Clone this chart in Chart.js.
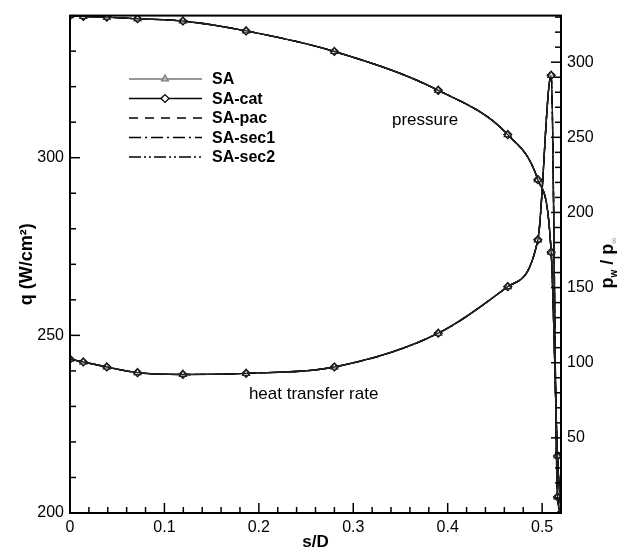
<!doctype html>
<html>

<head>
  <meta charset="utf-8">
  <title>Heat transfer rate and wall pressure vs s/D</title>
  <style>
    html, body { margin: 0; padding: 0; background: #fff; }
    .chartBox { width: 627px; height: 551px; }
  </style>
</head>

<body>
  <div class="chartBox">
    <canvas id="myChart" width="627" height="551"></canvas>
  </div>

  <script src="https://cdn.jsdelivr.net/npm/chart.js"></script>
  <script>
    const seriesNames = ['SA', 'SA-cat', 'SA-pac', 'SA-sec1', 'SA-sec2'];
    // s/D stations (where the symbols sit)
    const sD = [0, 0.0141, 0.039, 0.0715, 0.1196, 0.1865, 0.28, 0.39, 0.4636, 0.4955, 0.5096, 0.5163, 0.52];
    // heat transfer rate q (W/cm2), left axis; the five models lie on top of each other
    const heatQ = [243.3, 242.5, 241.1, 239.5, 239.0, 239.3, 241.1, 250.6, 263.7, 276.9, 323.2, 204.5, 200];
    // wall pressure p_w / p_inf, right axis
    const pressure = [330.9, 330.4, 330.0, 328.9, 327.4, 320.8, 307.1, 281.3, 251.8, 221.8, 173.6, 38, 0];

    const xTicks = [0, 0.1, 0.2, 0.3, 0.4, 0.5];
    const qTicks = [200, 250, 300];
    const pTicks = [50, 100, 150, 200, 250, 300];

    const font = 'Liberation Sans, Arial, sans-serif';

    // line look of each model (order: lower is drawn on top)
    const looks = [
      { borderColor: '#222', legendColor: '#777', legendFill: '#bbb', borderDash: [], order: 0, pointStyle: 'triangle', pointRadius: 4, pointBackgroundColor: 'rgba(0,0,0,0)', pointBorderColor: '#222' },
      { borderColor: '#000', borderDash: [], order: 1, pointStyle: 'rectRot', pointRadius: 4, pointBackgroundColor: '#fff', pointBorderColor: '#000' },
      { borderColor: '#000', borderDash: [9, 7], order: 2, pointRadius: 0 },
      { borderColor: '#000', borderDash: [12, 4, 2, 4], order: 2, pointRadius: 0 },
      { borderColor: '#000', borderDash: [12, 3, 2, 3, 2, 3], order: 2, pointRadius: 0 }
    ];

    const datasets = [];
    seriesNames.forEach((name, i) => {
      datasets.push(Object.assign({
        label: name,
        yAxisID: 'y',
        data: sD.map((s, k) => ({ x: s, y: heatQ[k] })),
        borderWidth: 1.4,
        pointBorderWidth: 1.2,
        cubicInterpolationMode: 'monotone'
      }, looks[i]));
    });
    seriesNames.forEach((name, i) => {
      datasets.push(Object.assign({
        label: name + ' p',
        yAxisID: 'y1',
        data: sD.map((s, k) => ({ x: s, y: pressure[k] })),
        borderWidth: 1.4,
        pointBorderWidth: 1.2,
        cubicInterpolationMode: 'monotone'
      }, looks[i]));
    });

    // frame and inward tick marks, like the original plot
    const frameTicks = {
      id: 'frameTicks',
      afterDatasetsDraw(chart) {
        const { ctx, chartArea: a, scales } = chart;
        ctx.save();
        ctx.strokeStyle = '#000';
        ctx.lineWidth = 1.5;
        const tick = (x1, y1, x2, y2) => {
          ctx.beginPath(); ctx.moveTo(x1, y1); ctx.lineTo(x2, y2); ctx.stroke();
        };
        for (let i = 1; i <= 26; i++) {
          const x = scales.x.getPixelForValue(i * 0.02);
          tick(x, a.bottom, x, a.bottom - (i % 5 === 0 ? 10 : 6));
        }
        for (let v = 210; v <= 340; v += 10) {
          const y = scales.y.getPixelForValue(v);
          tick(a.left, y, a.left + (v % 50 === 0 ? 10 : 6), y);
        }
        for (let v = 10; v <= 330; v += 10) {
          const y = scales.y1.getPixelForValue(v);
          tick(a.right, y, a.right - (v % 50 === 0 ? 10 : 6), y);
        }
        ctx.lineWidth = 2;
        ctx.strokeRect(a.left, a.top, a.right - a.left, a.bottom - a.top);
        ctx.restore();
      }
    };

    // legend box, curve labels and the right axis title
    const extras = {
      id: 'extras',
      afterDraw(chart) {
        const { ctx, scales } = chart;
        ctx.save();
        // legend
        ctx.font = 'bold 16px ' + font;
        ctx.textBaseline = 'middle';
        seriesNames.forEach((name, i) => {
          const look = looks[i];
          const y = 79 + i * 19.5;
          ctx.strokeStyle = look.legendColor || look.borderColor;
          ctx.lineWidth = 1.4;
          ctx.setLineDash(look.borderDash);
          ctx.beginPath(); ctx.moveTo(129, y); ctx.lineTo(202, y); ctx.stroke();
          ctx.setLineDash([]);
          if (look.pointRadius) {
            ctx.fillStyle = look.legendFill || look.pointBackgroundColor;
            ctx.strokeStyle = look.legendColor || look.pointBorderColor;
            ctx.lineWidth = 1.2;
            Chart.helpers.drawPoint(ctx, { pointStyle: look.pointStyle, radius: look.pointRadius, rotation: 0, borderWidth: 1.2 }, 165, y);
          }
          ctx.fillStyle = '#000';
          ctx.textAlign = 'left';
          ctx.fillText(name, 212, y + 1);
        });

        // curve labels
        ctx.font = '17px ' + font;
        ctx.textAlign = 'center';
        ctx.fillText('pressure', scales.x.getPixelForValue(0.376), scales.y1.getPixelForValue(261.5));
        ctx.fillText('heat transfer rate', scales.x.getPixelForValue(0.258), scales.y.getPixelForValue(233.5));

        // right axis title p_w / p_inf, reading bottom to top
        ctx.translate(608, 263);
        ctx.rotate(-Math.PI / 2);
        ctx.textAlign = 'left';
        ctx.textBaseline = 'alphabetic';
        const big = 'bold 18px ' + font, small = 'bold 10px ' + font;
        const parts = [['p', big, 0], ['w', small, 4], [' / ', big, 0], ['p', big, 0], ['\u221e', '9px ' + font, 4]];
        let w = 0;
        parts.forEach(p => { ctx.font = p[1]; w += ctx.measureText(p[0]).width; });
        let x = -w / 2;
        parts.forEach(p => {
          ctx.font = p[1];
          ctx.fillStyle = p[0] === '\u221e' ? '#888' : '#000';
          ctx.fillText(p[0], x, 5 + p[2]);
          x += ctx.measureText(p[0]).width;
        });
        ctx.restore();
      }
    };

    const setTicks = (values) => (scale) => {
      scale.ticks = values.map(v => ({ value: v }));
    };

    const config = {
      type: 'line',
      data: { datasets },
      options: {
        responsive: false,
        animation: false,
        devicePixelRatio: 1,
        layout: { padding: { top: 12, left: 0, right: 0, bottom: 0 } },
        plugins: { legend: { display: false }, tooltip: { enabled: false } },
        scales: {
          x: {
            type: 'linear',
            min: 0,
            max: 0.52,
            grid: { display: false, drawTicks: false },
            border: { display: false },
            afterBuildTicks: setTicks(xTicks),
            afterFit: (s) => { s.height = 38; },
            ticks: {
              padding: 5,
              color: '#000',
              font: { family: font, size: 16 },
              callback: (v) => (v === 0 ? '0' : v.toFixed(1))
            },
            title: {
              display: true,
              text: 's/D',
              color: '#000',
              font: { family: font, size: 17, weight: 'bold', lineHeight: 1 },
              padding: { top: 0, bottom: 0 }
            }
          },
          y: {
            position: 'left',
            min: 200,
            max: 340,
            grid: { display: false, drawTicks: false },
            border: { display: false },
            afterBuildTicks: setTicks(qTicks),
            afterFit: (s) => { s.width = 70; },
            ticks: { padding: 6, color: '#000', font: { family: font, size: 16 } },
            title: {
              display: true,
              text: 'q (W/cm\u00b2)',
              color: '#000',
              font: { family: font, size: 18, weight: 'bold', lineHeight: 1.2 },
              padding: { top: 16, bottom: 0 }
            }
          },
          y1: {
            position: 'right',
            min: 0,
            max: 331,
            grid: { display: false, drawTicks: false },
            border: { display: false },
            afterBuildTicks: setTicks(pTicks),
            afterFit: (s) => { s.width = 66; },
            ticks: { padding: 6, color: '#000', font: { family: font, size: 16 } }
          }
        }
      },
      plugins: [frameTicks, extras]
    };

    const myChart = new Chart(document.getElementById('myChart'), config);
  </script>
</body>

</html>
